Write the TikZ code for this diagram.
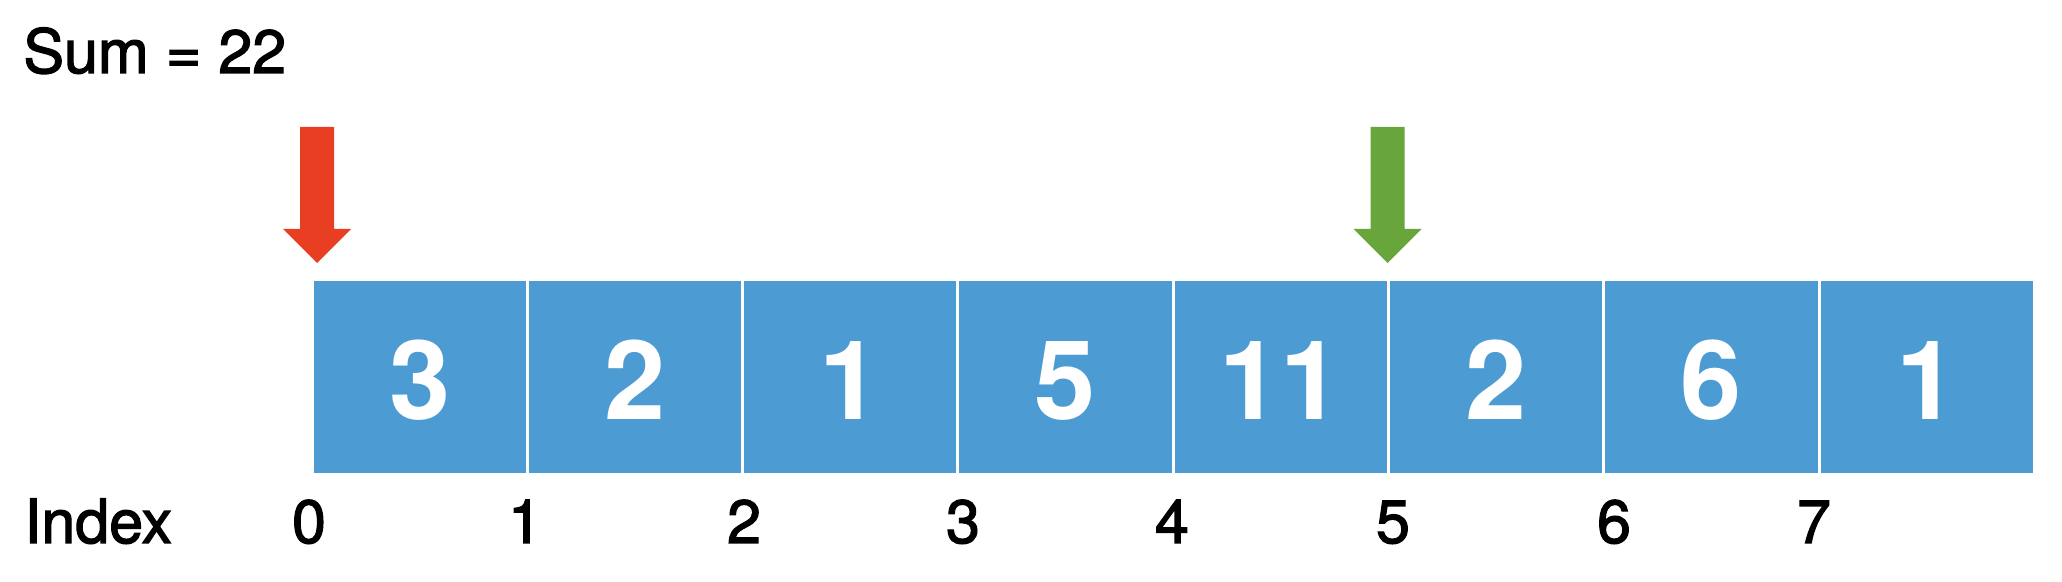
\documentclass[tikz,border=0pt]{standalone}
\usepackage{fontspec}
\setmainfont{TeX Gyre Heros}
\newfontfamily\medfont[FakeBold=2]{TeX Gyre Heros}
\newfontfamily\digitfont{TeX Gyre Heros Bold}
\definecolor{cellblue}{RGB}{76,155,210}
\definecolor{ptrred}{RGB}{232,62,34}
\definecolor{ptrgreen}{RGB}{104,165,59}
\begin{document}
\begin{tikzpicture}[x=0.5pt,y=-0.5pt,
  cell/.style={fill=cellblue, minimum width=106.15pt, minimum height=96pt, inner sep=0pt},
  digit/.style={text=white, font=\fontsize{55}{60}\selectfont\digitfont, anchor=base, inner sep=0pt},
  lbl/.style={font=\fontsize{30.5}{34}\selectfont\medfont, anchor=base, inner sep=0pt}
]
\useasboundingbox (0,0) rectangle (2062,582);
\node[lbl, anchor=base west] (sum) at (23,73) {Sum = 22};
\node[lbl, anchor=base west] (index) at (24,543) {Index};
\foreach \v [count=\i from 0] in {3,2,1,5,11,2,6,1} {
  \node[cell] (c\i) at ({312+215.3*(\i+0.5)},377) {};
  \node[digit] (d\i) at ({312+215.3*(\i+0.5)},420) {\v};
}
\foreach \x [count=\i from 0] in {309,525,744,963,1172,1393,1614,1814} {
  \node[lbl] (ix\i) at (\x,543) {\i};
}
\coordinate (rp) at (317,263);
\coordinate (gp) at (1387.5,263);
\fill[ptrred] (rp) -- ++(-34,-34) -- ++(17,0) -- ++(0,-102) -- ++(34,0) -- ++(0,102) -- ++(17,0) -- cycle;
\fill[ptrgreen] (gp) -- ++(-34,-34) -- ++(17,0) -- ++(0,-102) -- ++(34,0) -- ++(0,102) -- ++(17,0) -- cycle;
\end{tikzpicture}
\end{document}
